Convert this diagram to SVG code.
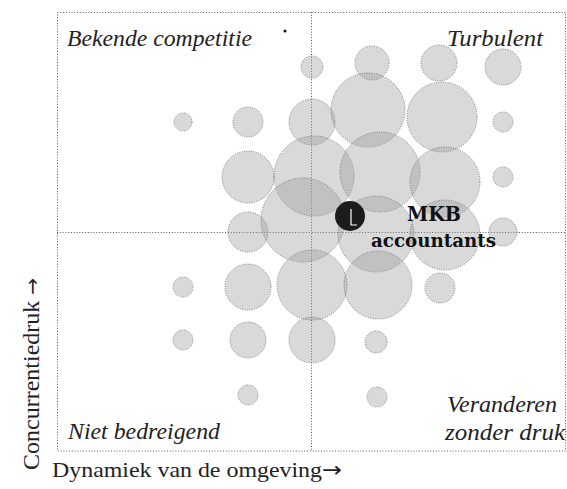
<svg xmlns="http://www.w3.org/2000/svg" width="567" height="489" viewBox="0 0 567 489">
<style>
.frame{fill:none;stroke:#555;stroke-width:1;stroke-dasharray:1 1.8}
.b{fill:#9c9c9c;fill-opacity:.38;stroke:#555;stroke-width:.9;stroke-dasharray:1 1.4;stroke-opacity:.8}
.lab{font-family:"Liberation Serif",serif;font-style:italic;font-size:23px;fill:#222}
.ax{font-family:"Liberation Serif",serif;font-size:21px;fill:#222}
.arr{font-family:"DejaVu Sans",sans-serif}
.mkb{font-family:"DejaVu Serif","Liberation Serif",serif;font-weight:bold;fill:#111}
</style>
<rect width="567" height="489" fill="#fff"/>
<g id="frame">
<rect class="frame" x="57.5" y="12.5" width="508" height="438.5"/>
<line class="frame" x1="311.5" y1="12" x2="311.5" y2="451"/>
<line class="frame" x1="57" y1="232.5" x2="566" y2="232.5"/>
<circle cx="285" cy="31" r="1.5" fill="#111"/>
</g>
<g id="bubbles">
<circle class="b" cx="183" cy="122" r="9"/>
<circle class="b" cx="183" cy="287" r="10"/>
<circle class="b" cx="183" cy="340" r="10"/>
<circle class="b" cx="248" cy="122" r="15"/>
<circle class="b" cx="248" cy="177" r="26"/>
<circle class="b" cx="248" cy="232" r="20"/>
<circle class="b" cx="248" cy="287" r="23"/>
<circle class="b" cx="248" cy="340" r="18"/>
<circle class="b" cx="248" cy="395" r="10"/>
<circle class="b" cx="312" cy="67" r="11"/>
<circle class="b" cx="312" cy="122" r="23"/>
<circle class="b" cx="312" cy="340" r="23"/>
<circle class="b" cx="372" cy="63" r="17"/>
<circle class="b" cx="376" cy="342" r="11"/>
<circle class="b" cx="377" cy="397" r="10"/>
<circle class="b" cx="439" cy="63" r="18"/>
<circle class="b" cx="440" cy="288" r="15"/>
<circle class="b" cx="503" cy="67" r="18"/>
<circle class="b" cx="503" cy="122" r="10"/>
<circle class="b" cx="503" cy="177" r="10"/>
<circle class="b" cx="503" cy="232" r="14"/>
</g>
<g id="cluster">
<circle class="b" cx="368" cy="110" r="37"/>
<circle class="b" cx="442" cy="117" r="35"/>
<circle class="b" cx="314" cy="176" r="40"/>
<circle class="b" cx="380" cy="172" r="40"/>
<circle class="b" cx="445" cy="182" r="35"/>
<circle class="b" cx="303" cy="220" r="42"/>
<circle class="b" cx="376" cy="234" r="38"/>
<circle class="b" cx="445" cy="235" r="35"/>
<circle class="b" cx="312" cy="285" r="35"/>
<circle class="b" cx="378" cy="285" r="34"/>
</g>
<g id="mkb">
<circle cx="350" cy="216" r="15" fill="#1c1c1c"/>
<path d="M351 209V225H357" fill="none" stroke="#fff" stroke-width="1.2"/>
<text class="mkb" x="407" y="221" style="font-size:20px" textLength="54" lengthAdjust="spacingAndGlyphs">MKB</text>
<text class="mkb" x="371" y="247" style="font-size:18px" textLength="125" lengthAdjust="spacingAndGlyphs">accountants</text>
</g>
<g id="labels">
<text class="lab" x="67" y="46" textLength="185" lengthAdjust="spacingAndGlyphs">Bekende competitie</text>
<text class="lab" x="447" y="46" textLength="96" lengthAdjust="spacingAndGlyphs">Turbulent</text>
<text class="lab" x="68" y="439" textLength="152" lengthAdjust="spacingAndGlyphs">Niet bedreigend</text>
<text class="lab" x="447" y="412" textLength="110" lengthAdjust="spacingAndGlyphs">Veranderen</text>
<text class="lab" x="445" y="440" textLength="120" lengthAdjust="spacingAndGlyphs">zonder druk</text>
</g>
<g id="axes">
<text class="ax" x="52" y="477" textLength="290" lengthAdjust="spacingAndGlyphs">Dynamiek van de omgeving<tspan class="arr">→</tspan></text>
<text class="ax" transform="translate(39 470) rotate(-90)" style="font-size:24px">Concurrentiedruk <tspan class="arr" style="font-size:20px">→</tspan></text>
</g>
</svg>
